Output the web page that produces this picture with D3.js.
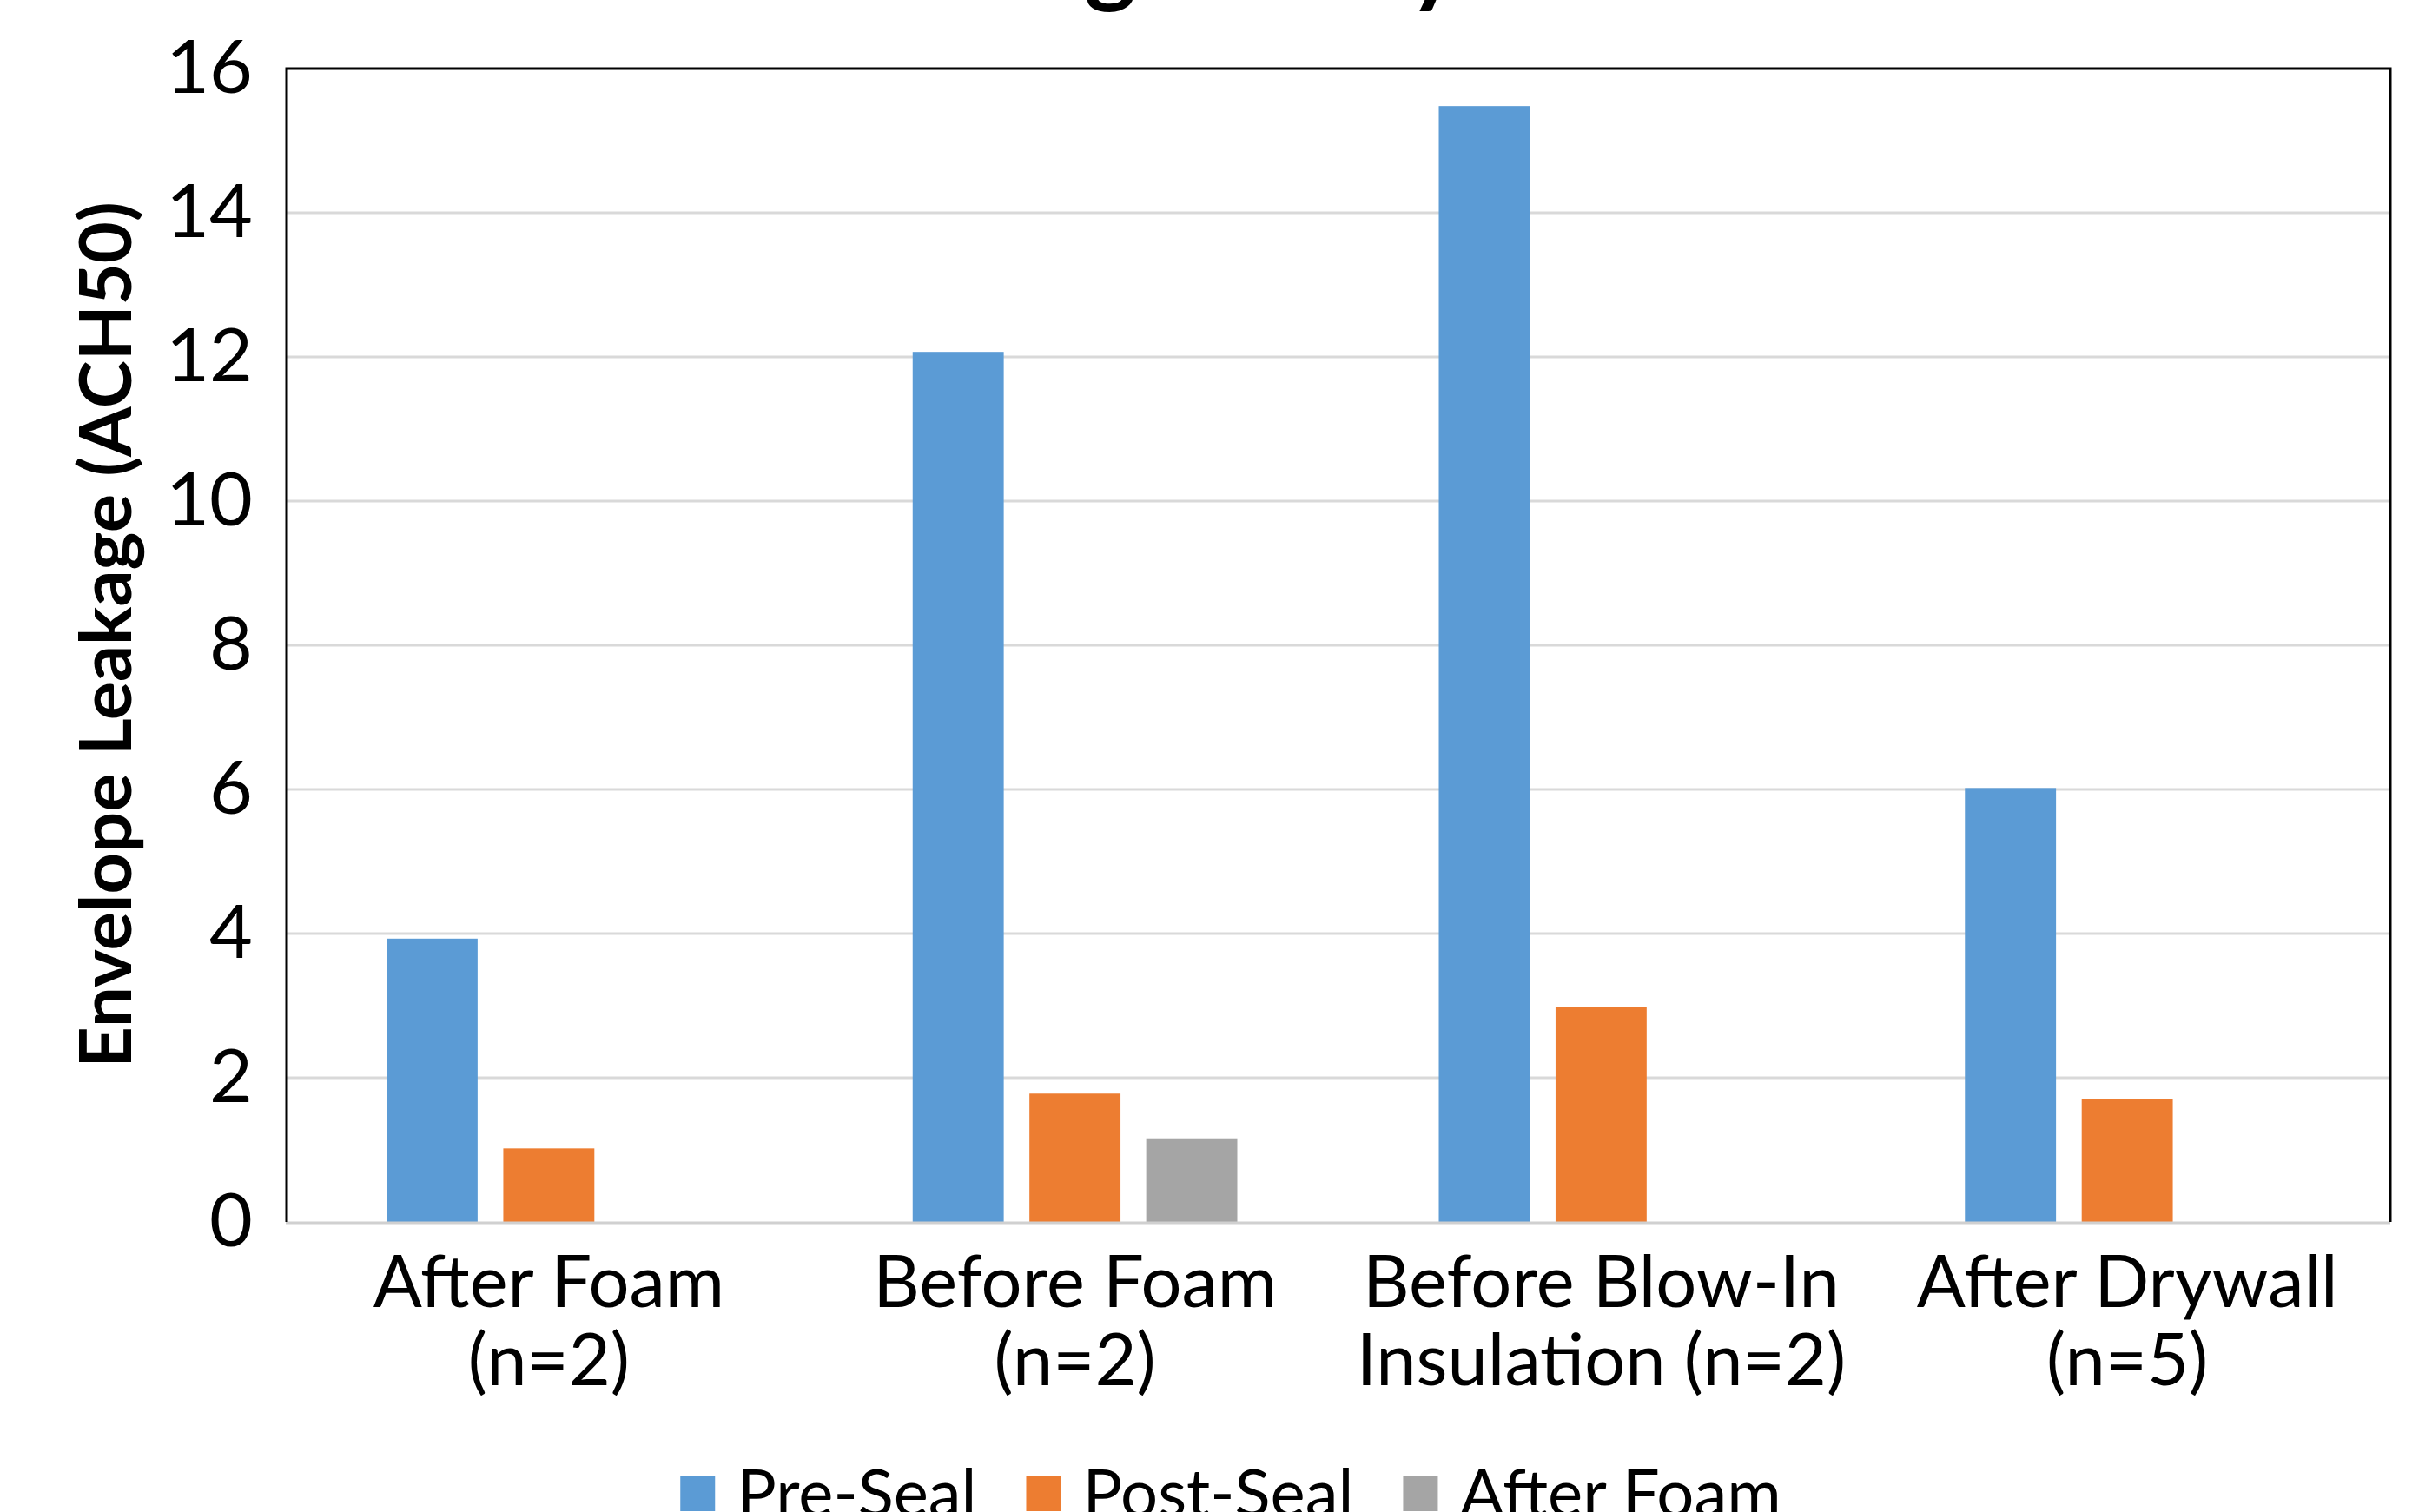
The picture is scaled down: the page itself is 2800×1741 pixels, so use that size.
<!DOCTYPE html>
<html>
<head>
<meta charset="utf-8">
<script src="https://cdn.jsdelivr.net/npm/d3@7"></script>
<style>
  html, body { margin: 0; padding: 0; background: #ffffff; overflow: hidden; }
  text { font-family: Lato, "Open Sans", "Noto Sans", sans-serif; fill: #000; }
</style>
</head>
<body>
<svg id="chart" width="2800" height="1741"></svg>
<script>
// Air-sealing timing groups and their x-axis label lines
const categories = ["After Foam", "Before Foam", "Before Blow-In", "After Drywall"];
const categoryLines = [
  ["After Foam", "(n=2)"],
  ["Before Foam", "(n=2)"],
  ["Before Blow-In", "Insulation (n=2)"],
  ["After Drywall", "(n=5)"]
];

// Envelope leakage (ACH50) per group; null = no test at that stage
const seriesNames = ["Pre-Seal", "Post-Seal", "After Foam"];
const preSeal   = [3.93, 12.07, 15.48, 6.02];
const postSeal  = [1.02, 1.78, 2.98, 1.71];
const afterFoam = [null, 1.16, null, null];
const seriesColors = ["#5b9bd5", "#ed7d31", "#a5a5a5"];

const yTicks = [0, 2, 4, 6, 8, 10, 12, 14, 16];
const yTitle = "Envelope Leakage (ACH50)";
const chartTitle = "Air Leakage Study";

const series = [preSeal, postSeal, afterFoam];

const FONT = 83;
const plot = { left: 329, right: 2752, top: 79, bottom: 1407 };
const svg = d3.select("#chart");

const x0 = d3.scaleBand().domain(categories).range([plot.left, plot.right]);
const groupPad = x0.bandwidth() * 0.1915;
const x1 = d3.scaleBand().domain(seriesNames)
  .range([groupPad, x0.bandwidth() - groupPad])
  .paddingInner(0.22);
const y = d3.scaleLinear().domain([0, 16]).range([plot.bottom, plot.top]);

// horizontal gridlines
svg.append("g").selectAll("line")
  .data(yTicks.filter(t => t > 0 && t < 16))
  .join("line")
  .attr("x1", plot.left).attr("x2", plot.right)
  .attr("y1", d => y(d)).attr("y2", d => y(d))
  .attr("stroke", "#d9d9d9").attr("stroke-width", 3);

// bars
const rows = [];
categories.forEach((c, i) => {
  series.forEach((s, k) => {
    if (s[i] != null) rows.push({ cat: c, name: seriesNames[k], value: s[i], color: seriesColors[k] });
  });
});
svg.append("g").selectAll("rect")
  .data(rows)
  .join("rect")
  .attr("x", d => x0(d.cat) + x1(d.name))
  .attr("width", x1.bandwidth())
  .attr("y", d => y(d.value))
  .attr("height", d => y(0) - y(d.value))
  .attr("fill", d => d.color);

// category axis line (gray) and black frame on the other sides
svg.append("line")
  .attr("x1", plot.left).attr("x2", plot.right)
  .attr("y1", y(0) + 1).attr("y2", y(0) + 1)
  .attr("stroke", "#d0d0d0").attr("stroke-width", 3);
svg.append("path")
  .attr("d", `M${plot.left + 1},${y(0)} V${y(16)} H${plot.right} V${y(0)}`)
  .attr("fill", "none").attr("stroke", "#000").attr("stroke-width", 3);

// value axis
const yAxis = svg.append("g")
  .attr("transform", `translate(${plot.left},0)`)
  .call(d3.axisLeft(y).tickValues(yTicks).tickSize(0).tickPadding(38).tickFormat(d3.format("d")));
yAxis.select(".domain").remove();
yAxis.selectAll("text").style("font-size", (FONT + 3) + "px").style("font-family", "Lato, sans-serif");

// category axis with two-line labels
const xAxis = svg.append("g")
  .attr("transform", `translate(0,${plot.bottom})`)
  .call(d3.axisBottom(x0).tickSize(0).tickFormat(""));
xAxis.select(".domain").remove();
xAxis.selectAll(".tick text").remove();
xAxis.selectAll(".tick").append("text")
  .attr("text-anchor", "middle")
  .style("font-size", FONT + "px")
  .selectAll("tspan")
  .data(d => categoryLines[categories.indexOf(d)])
  .join("tspan")
  .attr("x", 0)
  .attr("y", (d, i) => 98 + i * 90)
  .text(d => d);

// value axis title
svg.append("text")
  .attr("transform", `translate(151,${(plot.top + plot.bottom) / 2 - 12}) rotate(-90)`)
  .attr("text-anchor", "middle")
  .style("font-size", FONT + "px").style("font-weight", "bold")
  .text(yTitle);

// chart title (sits above the top edge)
svg.append("text")
  .attr("x", 1234).attr("y", -6)
  .attr("text-anchor", "middle")
  .style("font-size", "112px").style("font-weight", "bold")
  .text(chartTitle);

// legend
const LEGEND_FONT = 76;
const legend = svg.append("g");
const items = legend.selectAll("g").data(seriesNames).join("g");
items.append("rect")
  .attr("width", 40).attr("height", 40).attr("y", 1700)
  .attr("fill", (d, i) => seriesColors[i]);
items.append("text")
  .attr("x", 65).attr("y", 1746)
  .style("font-size", LEGEND_FONT + "px")
  .text(d => d);
const widths = [];
items.each(function() { widths.push(65 + d3.select(this).select("text").node().getComputedTextLength()); });
const totalW = d3.sum(widths) + 57 * (widths.length - 1);
let cursor = 1417 - totalW / 2;
items.attr("transform", (d, i) => {
  const tx = cursor;
  cursor += widths[i] + 57;
  return `translate(${tx},0)`;
});
</script>
</body>
</html>
